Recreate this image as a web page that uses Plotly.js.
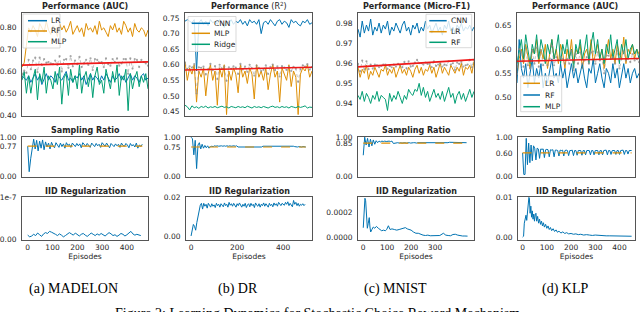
<!DOCTYPE html>
<html><head><meta charset="utf-8">
<script src="https://cdn.plot.ly/plotly-3.0.1.min.js"></script>
<style>html,body{margin:0;padding:0;background:#fff}#chart{width:640px;height:312px}</style>
</head><body><div id="chart"></div>
<script>
// ================= DATA =================
const captions = ['(a) MADELON', '(b) DR', '(c) MNIST', '(d) KLP'];
const perfTitles = ['<b>Performance (AUC)</b>', '<b>Performance</b> (R<sup>2</sup>)', '<b>Performance (Micro-F1)</b>', '<b>Performance (AUC)</b>'];
const figureCaption = 'Figure 2: Learning Dynamics for Stochastic Choice Reward Mechanism';

// --- MADELON performance ---
const madNames = ['LR', 'RF', 'MLP'];
const madLR = [0.58,0.57,0.56,0.58,0.55,0.57,0.59,0.56,0.58,0.54,
  0.57,0.59,0.56,0.58,0.57,0.55,0.59,0.57,0.56,0.58,
  0.60,0.56,0.57,0.55,0.58,0.57,0.59,0.56,0.58,0.54,
  0.57,0.59,0.56,0.58,0.57,0.55,0.58,0.56,0.59,0.57,
  0.55,0.58,0.56,0.57,0.59,0.56,0.58,0.55,0.57,0.59,
  0.56,0.58,0.57,0.55,0.58,0.59,0.56,0.57];
const madRF = [0.62,0.64,0.72,0.80,0.78,0.81,0.79,0.76,0.82,0.80,
  0.78,0.83,0.79,0.77,0.81,0.80,0.76,0.82,0.79,0.81,
  0.78,0.80,0.83,0.77,0.79,0.81,0.78,0.80,0.76,0.82,
  0.79,0.80,0.78,0.81,0.77,0.83,0.79,0.80,0.78,0.76,
  0.81,0.79,0.82,0.78,0.80,0.77,0.83,0.81,0.78,0.80,
  0.76,0.82,0.79,0.78,0.80,0.79,0.76,0.79];
const madMLP = [0.56,0.60,0.50,0.58,0.50,0.57,0.61,0.47,0.59,0.55,
  0.62,0.50,0.58,0.56,0.52,0.60,0.54,0.62,0.45,0.57,
  0.59,0.49,0.61,0.55,0.58,0.52,0.63,0.50,0.57,0.60,
  0.53,0.59,0.48,0.58,0.62,0.54,0.56,0.50,0.61,0.57,
  0.52,0.60,0.55,0.63,0.49,0.58,0.56,0.61,0.42,0.59,
  0.52,0.57,0.60,0.53,0.58,0.55,0.59,0.52];
const madTrend = [0.629, 0.644];

// --- DR performance ---
const drNames = ['CNN', 'MLP', 'Ridge'];
const drCNN = [0.74,0.745,0.74,0.735,0.745,0.58,0.735,0.745,0.73,0.74,
  0.725,0.745,0.735,0.74,0.73,0.745,0.735,0.72,0.74,0.735,
  0.745,0.73,0.74,0.735,0.745,0.73,0.74,0.725,0.745,0.735,
  0.74,0.73,0.745,0.70,0.735,0.74,0.73,0.745,0.735,0.725,
  0.74,0.745,0.73,0.74,0.735,0.72,0.745,0.735,0.74,0.73,
  0.725,0.74,0.735,0.745,0.73,0.735];
const drMLP = [0.61,0.55,0.59,0.57,0.60,0.48,0.58,0.56,0.59,0.50,
  0.57,0.60,0.55,0.58,0.47,0.59,0.56,0.60,0.44,0.58,
  0.55,0.59,0.57,0.51,0.60,0.56,0.58,0.54,0.59,0.57,
  0.49,0.60,0.56,0.58,0.55,0.59,0.52,0.57,0.60,0.56,
  0.58,0.48,0.59,0.57,0.55,0.60,0.53,0.58,0.56,0.44,
  0.57,0.59,0.58,0.60,0.56,0.58];
const drRidge = [0.47,0.465,0.455,0.468,0.462,0.465,0.46,0.466,0.463,0.467,
  0.461,0.465,0.463,0.466,0.462,0.465,0.467,0.463,0.465,0.461,
  0.466,0.464,0.462,0.466,0.463,0.465,0.462,0.467,0.464,0.461,
  0.466,0.463,0.465,0.462,0.466,0.464,0.461,0.465,0.467,0.463,
  0.465,0.462,0.466,0.463,0.465,0.461,0.466,0.464,0.462,0.466,
  0.463,0.465,0.468,0.461,0.464,0.463];
const drTrend = [0.583, 0.592];

// --- MNIST performance ---
const mnNames = ['CNN', 'LR', 'RF'];
const mnCNN = [0.977,0.973,0.981,0.975,0.979,0.976,0.982,0.974,0.978,0.976,
  0.980,0.975,0.979,0.977,0.981,0.974,0.978,0.976,0.980,0.977,
  0.975,0.979,0.981,0.976,0.978,0.974,0.979,0.977,0.980,0.975,
  0.978,0.976,0.981,0.977,0.979,0.975,0.978,0.980,0.976,0.978,
  0.974,0.979,0.977,0.981,0.976,0.978,0.975,0.979,0.977,0.980,
  0.976,0.978,0.977,0.979,0.976,0.978];
const mnLR = [0.958,0.953,0.957,0.955,0.959,0.952,0.956,0.954,0.958,0.955,
  0.953,0.957,0.956,0.959,0.954,0.957,0.955,0.958,0.953,0.956,
  0.959,0.955,0.957,0.954,0.958,0.956,0.953,0.957,0.959,0.955,
  0.958,0.954,0.957,0.956,0.959,0.955,0.958,0.953,0.957,0.960,
  0.955,0.958,0.956,0.954,0.959,0.957,0.955,0.958,0.956,0.960,
  0.954,0.958,0.957,0.959,0.955,0.961];
const mnRF = [0.944,0.942,0.946,0.941,0.945,0.943,0.940,0.944,0.942,0.946,
  0.941,0.944,0.943,0.942,0.9365,0.945,0.941,0.944,0.942,0.946,
  0.943,0.940,0.944,0.942,0.947,0.945,0.944,0.947,0.946,0.950,
  0.944,0.948,0.943,0.946,0.941,0.944,0.947,0.943,0.945,0.942,
  0.946,0.941,0.944,0.948,0.943,0.945,0.940,0.944,0.946,0.942,
  0.945,0.941,0.944,0.947,0.943,0.946];
const mnTrend = [0.9582, 0.9618];

// --- KLP performance ---
const klNames = ['LR', 'RF', 'MLP'];
const klLR = [0.545,0.58,0.60,0.57,0.61,0.58,0.56,0.60,0.59,0.62,
  0.57,0.60,0.58,0.61,0.56,0.59,0.62,0.58,0.60,0.57,
  0.61,0.59,0.56,0.60,0.58,0.62,0.57,0.60,0.59,0.61,
  0.56,0.59,0.60,0.58,0.62,0.57,0.59,0.61,0.58,0.60,
  0.56,0.59,0.62,0.58,0.60,0.57,0.61,0.59,0.58,0.625,
  0.57,0.60,0.59,0.61,0.58,0.60,0.59];
const klRF = [0.53,0.62,0.56,0.54,0.57,0.52,0.55,0.58,0.53,0.56,
  0.54,0.57,0.52,0.55,0.53,0.56,0.58,0.54,0.55,0.53,
  0.57,0.54,0.56,0.52,0.55,0.57,0.54,0.56,0.53,0.55,
  0.57,0.54,0.52,0.56,0.55,0.58,0.53,0.55,0.57,0.54,
  0.52,0.56,0.55,0.53,0.57,0.54,0.56,0.52,0.55,0.57,
  0.54,0.56,0.53,0.55,0.56,0.54,0.55];
const klMLP = [0.57,0.60,0.62,0.58,0.63,0.60,0.57,0.61,0.59,0.63,
  0.58,0.62,0.60,0.57,0.61,0.59,0.62,0.58,0.60,0.63,
  0.57,0.61,0.59,0.62,0.58,0.60,0.56,0.61,0.59,0.62,
  0.58,0.60,0.63,0.57,0.61,0.635,0.59,0.62,0.58,0.60,
  0.57,0.61,0.59,0.63,0.58,0.60,0.62,0.57,0.61,0.59,
  0.62,0.58,0.60,0.61,0.59,0.60,0.58];
const klTrend = [0.575, 0.5806];

// --- Sampling ratio (episode step, values, target) ---
const srStep = [6, 6, 6, 5];
const srTargets = [0.77, 0.75, 0.85, 0.60];
const srMAD = [0.77,0.12,0.45,0.65,0.95,0.70,0.92,0.65,0.90,0.72,
  0.93,0.68,0.88,0.75,0.85,0.70,0.87,0.78,0.73,0.86,
  0.80,0.74,0.85,0.76,0.83,0.72,0.86,0.79,0.82,0.74,
  0.85,0.80,0.76,0.84,0.78,0.83,0.73,0.86,0.80,0.77,
  0.84,0.79,0.74,0.85,0.81,0.76,0.84,0.78,0.82,0.74,
  0.86,0.80,0.77,0.85,0.79,0.73,0.84,0.80,0.76,0.83,
  0.78,0.82,0.74,0.85,0.79,0.77,0.84,0.80,0.73,0.84,
  0.78,0.81,0.75,0.85,0.72,0.80,0.77,0.82];
const srDR = [1.00,0.96,0.55,0.92,0.20,0.80,0.86,0.70,0.82,0.72,
  0.79,0.73,0.78,0.72,0.76,0.77,0.76,0.78,0.77,0.78,
  0.77,0.78,0.78,0.77,0.78,0.77,0.78,0.77,0.78,0.77,
  0.78,0.78,0.77,0.78,0.75,0.75,0.76,0.75,0.75,0.76,
  0.75,0.75,0.76,0.75,0.75,0.76,0.75,0.75,0.76,0.75,
  0.75,0.75,0.77,0.77,0.78,0.77,0.77,0.78,0.77,0.77,
  0.78,0.77,0.77,0.78,0.77,0.77,0.78,0.77,0.77,0.78,
  0.77,0.77,0.78,0.77,0.77,0.76,0.75,0.75,0.76,0.75,
  0.75,0.76,0.75,0.75];
const srMN = [0.54,1.00,0.80,0.97,0.75,0.95,0.78,0.93,0.82,0.91,
  0.86,0.90,0.88,0.90,0.89,0.90,0.89,0.90,0.90,0.89,
  0.90,0.84,0.85,0.85,0.86,0.85,0.86,0.85,0.86,0.86,
  0.85,0.86,0.86,0.85,0.86,0.86,0.86,0.85,0.86,0.86,
  0.86,0.86,0.85,0.86,0.86,0.86,0.86,0.86,0.86,0.86,
  0.86,0.86,0.86,0.86,0.86,0.86,0.86,0.86,0.86,0.86,
  0.87,0.87,0.87,0.87,0.87,0.87,0.86,0.86,0.86,0.86,
  0.86,0.86,0.86];
const srKLP = [0.60,0.05,0.05,0.97,0.30,0.85,0.35,0.80,0.40,0.78,
  0.72,0.42,0.72,0.70,0.46,0.70,0.69,0.70,0.48,0.68,
  0.69,0.68,0.50,0.68,0.67,0.68,0.50,0.67,0.67,0.66,
  0.52,0.67,0.66,0.67,0.52,0.66,0.67,0.66,0.53,0.66,
  0.66,0.67,0.53,0.66,0.66,0.54,0.66,0.67,0.66,0.54,
  0.66,0.66,0.55,0.66,0.67,0.66,0.55,0.66,0.66,0.55,
  0.66,0.67,0.66,0.55,0.66,0.66,0.55,0.66,0.66,0.67,
  0.55,0.66,0.66,0.56,0.66,0.67,0.66,0.56,0.66,0.66,
  0.56,0.66,0.66,0.67,0.56,0.66,0.66,0.57,0.66,0.66,
  0.66];

// --- IID regularization ---
const iidMADStep = 8;
const iidMAD = [1.0e-8,0.6e-8,0.8e-8,1.2e-8,0.9e-8,1.5e-8,1.1e-8,0.7e-8,1.3e-8,1.6e-8,
  1.4e-8,1.9e-8,1.7e-8,1.5e-8,1.2e-8,0.9e-8,1.3e-8,1.0e-8,0.6e-8,0.9e-8,
  1.2e-8,1.6e-8,1.3e-8,1.0e-8,1.5e-8,1.1e-8,0.8e-8,1.2e-8,1.4e-8,1.0e-8,
  0.7e-8,1.1e-8,1.5e-8,1.2e-8,0.9e-8,1.3e-8,1.0e-8,1.4e-8,1.1e-8,0.8e-8,
  1.2e-8,1.6e-8,1.3e-8,0.9e-8,1.1e-8,0.7e-8,1.0e-8,1.4e-8,1.2e-8,0.8e-8,
  1.1e-8,1.5e-8,1.9e-8,1.3e-8,1.0e-8,1.2e-8,1.1e-8,0.9e-8];
const iidDRStep = 5;
const iidDR = [0.0000,0.0040,0.0060,0.0050,0.0030,0.0070,0.0110,0.0130,0.0160,0.0170,
  0.0140,0.0170,0.0155,0.0165,0.0145,0.0170,0.0160,0.0150,0.0168,0.0155,
  0.0162,0.0148,0.0170,0.0158,0.0165,0.0150,0.0168,0.0160,0.0152,0.0172,
  0.0158,0.0165,0.0150,0.0175,0.0160,0.0168,0.0155,0.0170,0.0162,0.0150,
  0.0168,0.0158,0.0172,0.0160,0.0150,0.0165,0.0155,0.0170,0.0148,0.0162,
  0.0168,0.0152,0.0170,0.0158,0.0165,0.0148,0.0172,0.0160,0.0155,0.0168,
  0.0150,0.0165,0.0158,0.0172,0.0155,0.0168,0.0160,0.0150,0.0170,0.0158,
  0.0165,0.0152,0.0172,0.0160,0.0168,0.0155,0.0175,0.0162,0.0158,0.0170,
  0.0165,0.0160,0.0175,0.0165,0.0178,0.0158,0.0170,0.0162,0.0152,0.0185,
  0.0165,0.0175,0.0158,0.0170,0.0155,0.0165,0.0160,0.0168,0.0158,0.0165];
const iidMNEp = [0,4,7,10,14,17,21,25,28,31,36,42,48,55,63,70,77,85,92,98,
  105,112,120,130,140,150,160,168,176,184,192,200,210,220,230,240,250,260,270,280,
  290,300,310,320,335,345,355,365,375,385,395,405,415,425,436];
const iidMN = [7.4e-5,2.0e-4,3.1e-4,2.9e-4,1.6e-4,7e-5,1.1e-4,1.55e-4,8e-5,4e-5,
  6e-5,8e-5,7e-5,8.5e-5,7e-5,6e-5,5e-5,5.5e-5,5e-5,6e-5,
  9e-5,6e-5,6.5e-5,6e-5,5.5e-5,6e-5,6.5e-5,7e-5,7.5e-5,6.5e-5,
  6e-5,5.5e-5,4e-5,3e-5,3e-5,2e-5,1.5e-5,1.2e-5,1.5e-5,1e-5,
  1.2e-5,1e-5,1.5e-5,1.2e-5,3e-5,1.5e-5,1.2e-5,1e-5,2e-5,2.2e-5,
  1.5e-5,1e-5,8e-6,8e-6,7e-6];
const iidKLPEp = [0,4,7,10,14,17,20,23,26,28,31,34,37,40,43,46,49,52,55,58,
  62,66,70,74,78,82,86,90,95,100,105,110,115,120,126,132,138,144,150,158,
  166,174,182,190,200,210,220,230,240,252,264,276,288,300,315,330,345,360,375,390,
  405,420,435,450];
const iidKLP = [0,0.0002,0.0035,0.0045,0.0055,0.0042,0.0065,0.0085,0.0100,0.0098,
  0.0060,0.0078,0.0050,0.0066,0.0045,0.0058,0.0040,0.0056,0.0060,0.0040,
  0.0052,0.0035,0.0045,0.0032,0.0040,0.0028,0.0036,0.0025,0.0032,0.0022,
  0.0028,0.0019,0.0024,0.0016,0.0021,0.0014,0.0018,0.0012,0.0015,0.0010,
  0.0013,0.0009,0.0011,0.0008,0.0009,0.0007,0.0008,0.0006,0.0007,0.0005,
  0.0006,0.0005,0.0004,0.0005,0.0004,0.0004,0.0003,0.0003,0.0003,0.0003,
  0.0002,0.0002,0.0002,0.0002];

// axis tick labels
const perfTicks = [[0.40,0.50,0.60,0.70,0.80],[0.45,0.50,0.55,0.60,0.65,0.70,0.75],[0.94,0.95,0.96,0.97,0.98],[0.50,0.55,0.60,0.65]];
const iidTickVals = [[0,1e-7],[0,0.02],[0,0.0002],[0,0.01]];
const iidTickText = [['0.00','1e-7'],['0.00','0.02'],['0.0000','0.0002'],['0.00','0.01']];
const epTicks = [[0,100,200,300,400],[0,200,400],[0,100,200,300],[0,100,200,300,400]];

// ================= STYLE / LAYOUT =================
const W = 640, H = 312;
const BLUE = '#0173b2', ORANGE = '#de8f05', GREEN = '#029e73', RED = 'rgb(240,25,25)', GRAY = 'rgba(140,140,140,0.75)';
const FONT = 'DejaVu Sans';
const TXT = '#262626';
const COLX = [[22,148],[186,312],[358,474],[518,635]];
const COLX_ROW1 = [[22,148],[185,312],[358,474],[517,639]];
const ROWY = [[13,115.5],[137,177],[197,240]];
const perfRanges = [[0.398,0.868],[0.437,0.7663],[0.934,0.985],[0.4625,0.675]];
const srRange = [-0.015, 1.005];
const iidRanges = [[-1.5e-9,1.005e-7],[-0.0021,0.0203],[-0.000024,0.00032],[-0.00075,0.0101]];
const epRanges = [[-23,485],[-22,525],[-22,463],[-19,464]];

function px(xp){return xp/W;}
function py(yp){return 1-yp/H;}
function seq(n, step){const a=[];for(let i=0;i<n;i++)a.push(i*step);return a;}
function meanOf(arrs){const n=Math.min(...arrs.map(a=>a.length));const out=[];for(let i=0;i<n;i++){let s=0;arrs.forEach(a=>s+=a[i]);out.push(s/arrs.length);}return out;}
function ax(k){return k===1?'':String(k);}

const traces = [];
const layout = {
  width: W, height: H, margin:{l:0,r:0,t:0,b:0}, paper_bgcolor:'#fff', plot_bgcolor:'#fff',
  showlegend:false, font:{family:FONT, size:7.5, color:TXT}, annotations:[], shapes:[]
};
function addAxes(k, xd, yd, xr, yr, xextra, yextra){
  const base = {showline:true, mirror:true, linecolor:'#555', linewidth:1, showgrid:false, zeroline:false,
    ticks:'', tickfont:{family:FONT,size:7.5,color:TXT}, fixedrange:true};
  layout['xaxis'+ax(k)] = Object.assign({}, base, {domain:[px(xd[0]),px(xd[1])], range:xr, anchor:'y'+ax(k), showticklabels:false}, xextra||{});
  layout['yaxis'+ax(k)] = Object.assign({}, base, {domain:[py(yd[1]),py(yd[0])], range:yr, anchor:'x'+ax(k), ticklabelstandoff:3}, yextra||{});
}
function line(k, x, y, color, width, dash, extra){
  traces.push(Object.assign({type:'scatter', mode:'lines', x:x, y:y, xaxis:'x'+ax(k), yaxis:'y'+ax(k),
    line:{color:color, width:width, dash:dash||'solid'}, hoverinfo:'skip', showlegend:false}, extra||{}));
}
function title(xc, yc, text){
  layout.annotations.push({xref:'paper', yref:'paper', x:px(xc), y:py(yc), text:text, showarrow:false,
    xanchor:'center', yanchor:'middle', font:{family:FONT, size:8, color:TXT}});
}

// ---- Row 1: performance ----
const perfSets = [
  {names:madNames, series:[madLR,madRF,madMLP], colors:[BLUE,ORANGE,GREEN], trend:madTrend},
  {names:drNames, series:[drCNN,drMLP,drRidge], colors:[BLUE,ORANGE,GREEN], trend:drTrend},
  {names:mnNames, series:[mnCNN,mnLR,mnRF], colors:[BLUE,ORANGE,GREEN], trend:mnTrend},
  {names:klNames, series:[klLR,klRF,klMLP], colors:[ORANGE,BLUE,GREEN], trend:klTrend}
];
const legendBoxes = [
  {box:[23,60,14,48], lx:[28,47], rows:[20.7,31,41.7], tx:49},
  {box:[188,236,16.5,51.5], lx:[191.7,210], rows:[23.3,33.3,44.3], tx:212},
  {box:[426,471.7,14.3,47.7], lx:[429.3,446.7], rows:[20.7,31.7,42.3], tx:448.5},
  {box:[520.7,561.7,76,111.7], lx:[523.3,540], rows:[83.3,95,106.7], tx:542.5}
];
perfSets.forEach((ps, c) => {
  const k = c+1;
  const n = Math.min(...ps.series.map(s=>s.length));
  const xs = seq(n, 1);
  addAxes(k, COLX_ROW1[c], ROWY[0], [0, n-1], perfRanges[c], null, {tickvals:perfTicks[c], tickformat:'.2f'});
  ps.series.forEach((s, i) => line(k, xs, s.slice(0,n), ps.colors[i], 1));
  const g = meanOf(ps.series);
  line(k, xs, g, GRAY, 0.7, 'dot', {mode:'lines+markers', marker:{size:2.2, color:GRAY}});
  line(k, [0, n-1], ps.trend, RED, 1.6);
  title((COLX_ROW1[c][0]+COLX_ROW1[c][1])/2 - (c===3?3:0), 6, perfTitles[c]);
  // legend
  const L = legendBoxes[c];
  layout.shapes.push({type:'rect', xref:'paper', yref:'paper', x0:px(L.box[0]), x1:px(L.box[1]), y0:py(L.box[3]), y1:py(L.box[2]),
    line:{color:'#cfcfcf', width:0.8}, fillcolor:'rgba(255,255,255,0.8)', layer:'above'});
  ps.names.forEach((nm, i) => {
    layout.shapes.push({type:'line', xref:'paper', yref:'paper', x0:px(L.lx[0]), x1:px(L.lx[1]), y0:py(L.rows[i]), y1:py(L.rows[i]),
      line:{color:ps.colors[i], width:1.5}, layer:'above'});
    layout.annotations.push({xref:'paper', yref:'paper', x:px(L.tx), y:py(L.rows[i]), text:nm, showarrow:false,
      xanchor:'left', yanchor:'middle', font:{family:FONT, size:7.5, color:TXT}});
  });
});

// ---- Row 2: sampling ratio ----
const srSets = [srMAD, srDR, srMN, srKLP];
srSets.forEach((s, c) => {
  const k = 5+c;
  const xs = seq(s.length, srStep[c]);
  addAxes(k, COLX[c], ROWY[1], epRanges[c], srRange, null, {tickvals:[0, srTargets[c], 1], tickformat:'.2f'});
  line(k, xs, s, BLUE, 1);
  line(k, [0, xs[xs.length-1]], [srTargets[c], srTargets[c]], ORANGE, 1.2, 'dash');
  title((COLX[c][0]+COLX[c][1])/2, 130, '<b>Sampling Ratio</b>');
});

// ---- Row 3: IID regularization ----
const iidX = [seq(iidMAD.length, iidMADStep), seq(iidDR.length, iidDRStep), iidMNEp, iidKLPEp];
const iidY = [iidMAD, iidDR, iidMN, iidKLP];
iidY.forEach((s, c) => {
  const k = 9+c;
  addAxes(k, COLX[c], ROWY[2], epRanges[c], iidRanges[c],
    {showticklabels:true, tickvals:epTicks[c], title:{text:'Episodes', font:{family:FONT,size:7.5,color:TXT}, standoff:1}},
    {tickvals:iidTickVals[c], ticktext:iidTickText[c]});
  line(k, iidX[c], s, BLUE, 1);
  title((COLX[c][0]+COLX[c][1])/2, 191, '<b>IID Regularization</b>');
});

// ---- captions ----
const capX = [73, 238, 395, 565];
captions.forEach((t, i) => {
  layout.annotations.push({xref:'paper', yref:'paper', x:px(capX[i]), y:py(289), text:t, showarrow:false,
    xanchor:'center', yanchor:'middle', font:{family:'Liberation Serif', size:14, color:'#000'}});
});
layout.annotations.push({xref:'paper', yref:'paper', x:px(317), y:py(304), text:figureCaption, showarrow:false,
  xanchor:'center', yanchor:'top', font:{family:'Liberation Serif', size:14, color:'#000'}});

Plotly.newPlot('chart', traces, layout, {staticPlot:true, displayModeBar:false});
</script>
</body></html>
